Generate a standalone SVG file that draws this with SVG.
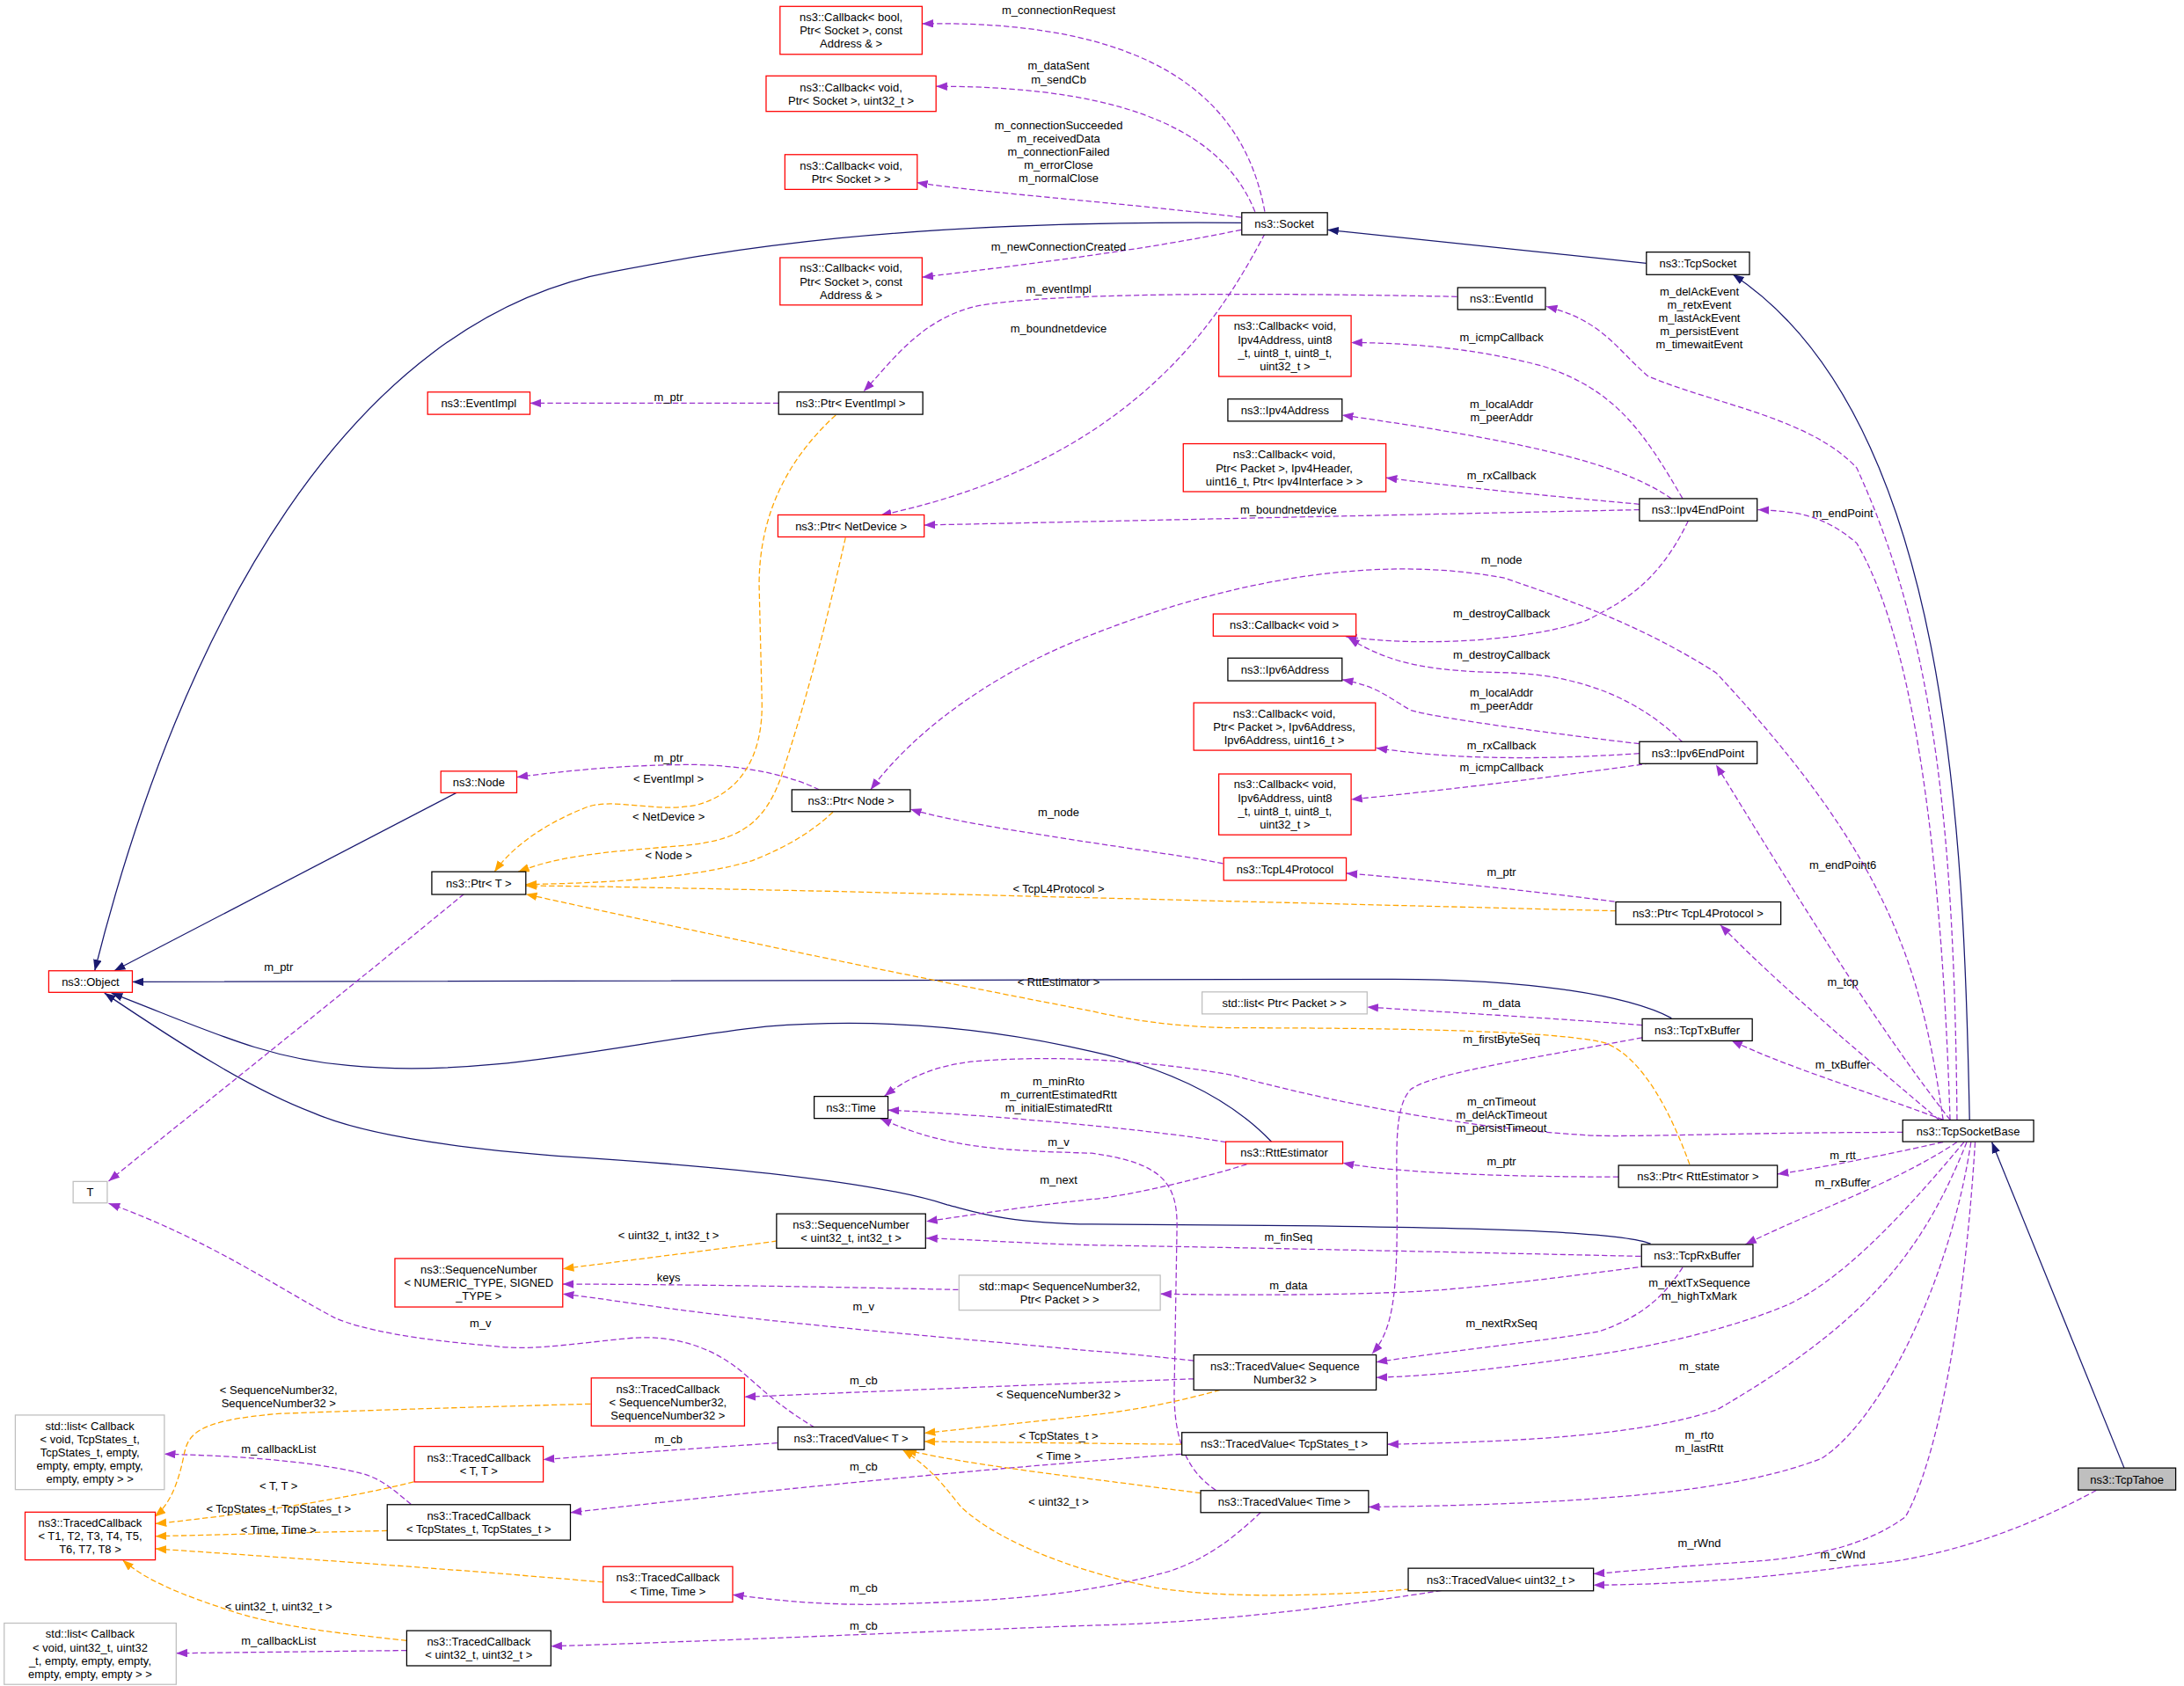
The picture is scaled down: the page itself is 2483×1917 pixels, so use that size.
<svg xmlns="http://www.w3.org/2000/svg" width="2483" height="1917" viewBox="0 0 2483 1917">
<style>
.n rect{fill:#fff;stroke:#000;stroke-width:0.8}
.n.r rect{stroke:#ff0000}
.n.g rect{stroke:#bfbfbf}
.n.t rect{fill:#bfbfbf}
text{font-family:"Liberation Sans",Arial,sans-serif;font-size:8.2px;fill:#000;text-anchor:middle}
.p{fill:none;stroke:#9a32cd;stroke-width:0.8;stroke-dasharray:4,2;marker-end:url(#mp)}
.o{fill:none;stroke:#ffa500;stroke-width:0.8;stroke-dasharray:4,2;marker-end:url(#mo)}
.b{fill:none;stroke:#191970;stroke-width:0.8;marker-end:url(#mb)}
</style>
<defs>
<marker id="mp" markerUnits="userSpaceOnUse" markerWidth="9" markerHeight="7" refX="8" refY="3" orient="auto"><path d="M0,0L8,3L0,6z" fill="#9a32cd"/></marker>
<marker id="mo" markerUnits="userSpaceOnUse" markerWidth="9" markerHeight="7" refX="8" refY="3" orient="auto"><path d="M0,0L8,3L0,6z" fill="#ffa500"/></marker>
<marker id="mb" markerUnits="userSpaceOnUse" markerWidth="9" markerHeight="7" refX="8" refY="3" orient="auto"><path d="M0,0L8,3L0,6z" fill="#191970"/></marker>
</defs>
<rect width="2483" height="1917" fill="#fff"/>
<g transform="scale(1.5836)">
<g id="connectors">
<path class="b" d="M891,160 C640,158 520,180 440,195 C250,230 130,450 68,697"/>
<path class="b" d="M1182,189 L953,165"/>
<path class="b" d="M1414,804 C1410,600 1400,300 1244,197"/>
<path class="b" d="M328,569 L82,697"/>
<path class="b" d="M1200,731 C1170,715 1100,703 1000,703 L95,705"/>
<path class="b" d="M913,820 C880,785 830,765 784,755 C720,740 640,730 550,737 C450,748 350,775 250,765 C190,760 150,740 80,713"/>
<path class="b" d="M1185,893 C1160,882 1000,880 784,879 C720,878 700,870 680,865 C640,852 560,840 400,830 C300,822 250,810 225,799 C180,782 130,750 75,713"/>
<path class="b" d="M1525,1054 L1430,820"/>

<path class="p" d="M908,152 C895,80 840,14 662,17"/>
<path class="p" d="M901,152 C880,100 820,62 672,62"/>
<path class="p" d="M891,156 C800,145 700,138 658,131"/>
<path class="p" d="M891,165 C820,180 720,192 662,199"/>
<path class="p" d="M1046,213 C900,210 750,210 700,220 C660,230 640,260 620,281"/>
<path class="p" d="M908,168 C880,220 820,330 632,370"/>
<path class="p" d="M559,289.5 L380.5,289.5"/>
<path class="p" d="M1177,366 L663.5,377"/>
<path class="p" d="M1208,358 C1180,310 1160,280 1108,263 C1060,250 1010,246 970,246"/>
<path class="p" d="M1200,358 C1160,330 1080,315 963.5,298"/>
<path class="p" d="M1177,362 C1100,355 1050,350 995,343"/>
<path class="p" d="M1405,804 C1403,600 1390,460 1333,336 C1300,300 1230,290 1183,270 C1160,250 1150,230 1110,220"/>
<path class="p" d="M1400,804 C1395,650 1380,470 1333,390 C1310,370 1290,367 1262,366"/>
<path class="p" d="M1395,804 C1380,700 1360,620 1232,483 C1180,450 1133,433 1080,415 C1000,400 900,410 783,456 C720,480 660,520 625,567"/>
<path class="p" d="M1212,374 C1190,420 1163,433 1140,445 C1100,460 1020,465 966,457"/>
<path class="p" d="M1208,533 C1180,505 1140,485 1083,483 C1030,482 1000,478 968,458"/>
<path class="p" d="M1177,534 C1100,525 1030,515 1013,510 C995,500 990,493 963.5,488"/>
<path class="p" d="M1177,541 C1100,546 1040,545 988,537"/>
<path class="p" d="M1185,548 C1100,560 1030,568 970,574"/>
<path class="p" d="M1400,804 C1350,740 1300,660 1232,549"/>
<path class="p" d="M588,567 C570,558 540,550 500,549 C450,549 410,553 371,558"/>
<path class="p" d="M878,620 C840,612 700,595 653.5,581"/>
<path class="p" d="M1165,648 C1100,640 1030,632 966.5,627"/>
<path class="p" d="M1392,804 C1340,760 1280,710 1235,664"/>
<path class="p" d="M333,642 C250,710 150,790 78,848"/>
<path class="p" d="M1179,736 C1100,730 1040,727 981.5,723"/>
<path class="p" d="M1395,804 C1330,780 1280,765 1243,747"/>
<path class="p" d="M1179,745 C1100,760 1030,770 1013,782 C1000,795 1003,830 1003,870 C1003,930 1000,955 985,972"/>
<path class="p" d="M1366,813 C1250,813 1160,817 1139,815 C1050,810 950,790 885,772 C830,762 760,757 700,762 C670,765 650,775 635,787"/>
<path class="p" d="M880,820 C820,810 700,800 637.5,797"/>
<path class="p" d="M873,1070 C850,1055 843,1030 843,1000 L845,880 C845,850 835,835 784,828 C720,826 680,825 632,803"/>
<path class="p" d="M895,836 C850,850 800,860 784,861 C730,867 700,872 665,877"/>
<path class="p" d="M1162,845 C1080,845 1000,842 964,835"/>
<path class="p" d="M1395,820 C1350,830 1310,838 1276,843"/>
<path class="p" d="M1405,820 C1360,850 1300,870 1253,893.5"/>
<path class="p" d="M1178,902 C1000,898 850,895 784,894 C740,893 700,890 665,889"/>
<path class="p" d="M1182,909 C1100,920 1040,927 1000,928 C950,930 880,930 833,929"/>
<path class="p" d="M688,926 C600,924 480,922 404,922"/>
<path class="p" d="M857,977 C820,973 800,971 784,970 C700,962 600,954 500,942 C460,937 430,932 404,929"/>
<path class="p" d="M585,1025 C560,1010 550,1000 535,987 C510,965 480,958 450,961 C400,966 380,970 350,966 C300,962 260,955 240,946 C200,925 150,890 78,864"/>
<path class="p" d="M1208,910 C1195,930 1180,945 1148,956 C1100,964 1040,970 988,978"/>
<path class="p" d="M1410,820 C1360,880 1320,920 1283,937 C1240,955 1183,968 1130,975 C1080,982 1030,988 988,989"/>
<path class="p" d="M857,990 C800,992 700,996 534.5,1003"/>
<path class="p" d="M558,1036 C500,1040 440,1044 390,1048"/>
<path class="p" d="M295,1080 C285,1072 275,1062 260,1058 C220,1048 160,1045 118,1044"/>
<path class="p" d="M1412,820 C1380,900 1340,950 1233,1012 C1180,1030 1100,1035 996,1037"/>
<path class="p" d="M848,1044 C700,1055 550,1070 409.5,1086"/>
<path class="p" d="M1415,820 C1400,920 1350,1020 1308,1047 C1250,1070 1150,1080 982.5,1082"/>
<path class="p" d="M905,1086 C890,1100 870,1118 840,1128 C780,1145 720,1150 625,1152 C580,1152 550,1148 526,1145"/>
<path class="p" d="M1418,820 C1410,950 1390,1050 1368,1089 C1340,1110 1300,1118 1260,1121 C1200,1125 1170,1128 1144,1130"/>
<path class="p" d="M1505,1070 C1450,1100 1390,1120 1333,1124 C1270,1133 1200,1138 1144,1138"/>
<path class="p" d="M1035,1142 C950,1155 870,1165 784,1167 C650,1172 520,1178 395.5,1182"/>
<path class="p" d="M292,1185 L126.5,1187"/>

<path class="o" d="M600,298 C565,330 545,370 545,420 L547,503 C548,545 530,570 500,578 C470,584 440,572 420,580 C395,590 370,605 355,626"/>
<path class="o" d="M607,386 C595,440 580,500 560,560 C545,600 520,605 480,608 C430,612 400,615 372,626"/>
<path class="o" d="M598,583 C580,600 560,610 540,618 C500,630 440,634 377.5,635"/>
<path class="o" d="M1160,654 C1000,650 800,645 600,640 C500,638 420,636 377.5,636"/>
<path class="o" d="M1213,836 C1200,800 1180,760 1153,749 C1120,740 1000,738 883,738 C840,737 810,732 784,726 C700,710 550,680 377.5,642"/>
<path class="o" d="M558,891 C500,899 450,905 404,911"/>
<path class="o" d="M424,1008 C350,1010 280,1012 200,1015 C140,1020 135,1030 132,1045 C128,1065 122,1080 111,1089"/>
<path class="o" d="M876,998 C840,1008 810,1013 784,1016 C740,1021 700,1025 663.5,1029"/>
<path class="o" d="M848,1037 L663.5,1035"/>
<path class="o" d="M862,1072 C830,1068 800,1064 784,1062 C720,1054 680,1048 650,1041"/>
<path class="o" d="M1012,1141 C950,1146 880,1148 830,1140 C780,1130 720,1110 690,1082 C680,1070 670,1055 648,1041"/>
<path class="o" d="M297,1064 C240,1078 170,1088 111.5,1094"/>
<path class="o" d="M278,1099 L111.5,1103"/>
<path class="o" d="M433,1136 C330,1127 230,1120 111.5,1112"/>
<path class="o" d="M292,1178 C250,1173 210,1170 170,1158 C130,1145 105,1135 88,1120"/>

<g id="labels">
<text x="760" y="10">m_connectionRequest</text>
<text x="760" y="50">m_dataSent</text><text x="760" y="60">m_sendCb</text>
<text x="760" y="93">m_connectionSucceeded</text><text x="760" y="102.5">m_receivedData</text><text x="760" y="112">m_connectionFailed</text><text x="760" y="121.5">m_errorClose</text><text x="760" y="131">m_normalClose</text>
<text x="760" y="180">m_newConnectionCreated</text>
<text x="760" y="210">m_eventImpl</text>
<text x="760" y="239">m_boundnetdevice</text>
<text x="480" y="288">m_ptr</text>
<text x="1220" y="212">m_delAckEvent</text><text x="1220" y="221.5">m_retxEvent</text><text x="1220" y="231">m_lastAckEvent</text><text x="1220" y="240.5">m_persistEvent</text><text x="1220" y="250">m_timewaitEvent</text>
<text x="1078" y="245">m_icmpCallback</text>
<text x="1078" y="293">m_localAddr</text><text x="1078" y="302.5">m_peerAddr</text>
<text x="1078" y="344">m_rxCallback</text>
<text x="925" y="369">m_boundnetdevice</text>
<text x="1323" y="371">m_endPoint</text>
<text x="1078" y="405">m_node</text>
<text x="1078" y="443">m_destroyCallback</text>
<text x="1078" y="473">m_destroyCallback</text>
<text x="1078" y="500">m_localAddr</text><text x="1078" y="509.5">m_peerAddr</text>
<text x="1078" y="538">m_rxCallback</text>
<text x="1078" y="554">m_icmpCallback</text>
<text x="480" y="547">m_ptr</text>
<text x="480" y="562">&lt; EventImpl &gt;</text>
<text x="760" y="586">m_node</text>
<text x="480" y="589">&lt; NetDevice &gt;</text>
<text x="480" y="617">&lt; Node &gt;</text>
<text x="1323" y="624">m_endPoint6</text>
<text x="1078" y="629">m_ptr</text>
<text x="760" y="641">&lt; TcpL4Protocol &gt;</text>
<text x="200" y="697">m_ptr</text>
<text x="1323" y="708">m_tcp</text>
<text x="760" y="708">&lt; RttEstimator &gt;</text>
<text x="1078" y="723">m_data</text>
<text x="1078" y="749">m_firstByteSeq</text>
<text x="1323" y="767">m_txBuffer</text>
<text x="760" y="779">m_minRto</text><text x="760" y="788.5">m_currentEstimatedRtt</text><text x="760" y="798">m_initialEstimatedRtt</text>
<text x="1078" y="794">m_cnTimeout</text><text x="1078" y="803.5">m_delAckTimeout</text><text x="1078" y="813">m_persistTimeout</text>
<text x="760" y="823">m_v</text>
<text x="1323" y="832">m_rtt</text>
<text x="1078" y="837">m_ptr</text>
<text x="760" y="850">m_next</text>
<text x="1323" y="852">m_rxBuffer</text>
<text x="480" y="890">&lt; uint32_t, int32_t &gt;</text>
<text x="925" y="891">m_finSeq</text>
<text x="480" y="920">keys</text>
<text x="925" y="926">m_data</text>
<text x="1220" y="924">m_nextTxSequence</text><text x="1220" y="933.5">m_highTxMark</text>
<text x="345" y="953">m_v</text>
<text x="620" y="941">m_v</text>
<text x="1078" y="953">m_nextRxSeq</text>
<text x="200" y="1001">&lt; SequenceNumber32,</text><text x="200" y="1010.5">SequenceNumber32 &gt;</text>
<text x="620" y="994">m_cb</text>
<text x="760" y="1004">&lt; SequenceNumber32 &gt;</text>
<text x="1220" y="984">m_state</text>
<text x="200" y="1043">m_callbackList</text>
<text x="480" y="1036">m_cb</text>
<text x="760" y="1034">&lt; TcpStates_t &gt;</text>
<text x="620" y="1056">m_cb</text>
<text x="760" y="1048">&lt; Time &gt;</text>
<text x="200" y="1070">&lt; T, T &gt;</text>
<text x="1220" y="1033">m_rto</text><text x="1220" y="1042.5">m_lastRtt</text>
<text x="200" y="1086">&lt; TcpStates_t, TcpStates_t &gt;</text>
<text x="200" y="1101">&lt; Time, Time &gt;</text>
<text x="760" y="1081">&lt; uint32_t &gt;</text>
<text x="1220" y="1111">m_rWnd</text>
<text x="1323" y="1119">m_cWnd</text>
<text x="620" y="1143">m_cb</text>
<text x="200" y="1156">&lt; uint32_t, uint32_t &gt;</text>
<text x="200" y="1181">m_callbackList</text>
<text x="620" y="1170">m_cb</text>
</g>
</g>

<g id="cb_bool" class="n r"><rect x="560" y="4.6" width="102" height="34.4"/><text x="611" y="15.2">ns3::Callback&lt; bool,</text><text x="611" y="24.8">Ptr&lt; Socket &gt;, const</text><text x="611" y="34.4">Address &amp; &gt;</text></g>
<g id="cb_uint32" class="n r"><rect x="550" y="54.5" width="122" height="25.5"/><text x="611" y="65.4">ns3::Callback&lt; void,</text><text x="611" y="75">Ptr&lt; Socket &gt;, uint32_t &gt;</text></g>
<g id="cb_socket" class="n r"><rect x="563.5" y="111" width="95" height="25"/><text x="611" y="121.7">ns3::Callback&lt; void,</text><text x="611" y="131.3">Ptr&lt; Socket &gt; &gt;</text></g>
<g id="cb_const" class="n r"><rect x="560" y="185" width="102" height="34"/><text x="611" y="195.4">ns3::Callback&lt; void,</text><text x="611" y="205">Ptr&lt; Socket &gt;, const</text><text x="611" y="214.6">Address &amp; &gt;</text></g>
<g id="eventimpl" class="n r"><rect x="307" y="281.5" width="73.5" height="16"/><text x="343.7" y="292.5">ns3::EventImpl</text></g>
<g id="ptr_eventimpl" class="n"><rect x="559" y="281.5" width="103.5" height="16"/><text x="610.7" y="292.5">ns3::Ptr&lt; EventImpl &gt;</text></g>
<g id="ptr_netdevice" class="n r"><rect x="558.5" y="369.7" width="105" height="15.8"/><text x="611" y="380.6">ns3::Ptr&lt; NetDevice &gt;</text></g>
<g id="node" class="n r"><rect x="316.5" y="553.7" width="54.5" height="15.5"/><text x="343.7" y="564.5">ns3::Node</text></g>
<g id="ptr_node" class="n"><rect x="568.5" y="567" width="85" height="15.7"/><text x="611" y="577.9">ns3::Ptr&lt; Node &gt;</text></g>
<g id="socket" class="n"><rect x="891.5" y="152.7" width="61.5" height="15.9"/><text x="922" y="163.6">ns3::Socket</text></g>
<g id="tcpsocket" class="n"><rect x="1182" y="181" width="74" height="16.2"/><text x="1219" y="192">ns3::TcpSocket</text></g>
<g id="eventid" class="n"><rect x="1046.5" y="206.5" width="63" height="15.8"/><text x="1078" y="217.4">ns3::EventId</text></g>
<g id="cb_ipv4_icmp" class="n r"><rect x="875" y="226.6" width="95" height="43.7"/><text x="922.5" y="237.1">ns3::Callback&lt; void,</text><text x="922.5" y="246.7">Ipv4Address, uint8</text><text x="922.5" y="256.3">_t, uint8_t, uint8_t,</text><text x="922.5" y="265.9">uint32_t &gt;</text></g>
<g id="ipv4address" class="n"><rect x="881.5" y="286.5" width="82" height="15.9"/><text x="922.5" y="297.5">ns3::Ipv4Address</text></g>
<g id="cb_ipv4_rx" class="n r"><rect x="849.5" y="318.6" width="145.5" height="34.4"/><text x="922" y="329.2">ns3::Callback&lt; void,</text><text x="922" y="338.8">Ptr&lt; Packet &gt;, Ipv4Header,</text><text x="922" y="348.4">uint16_t, Ptr&lt; Ipv4Interface &gt; &gt;</text></g>
<g id="ipv4endpoint" class="n"><rect x="1177" y="358" width="84.5" height="16"/><text x="1219" y="369">ns3::Ipv4EndPoint</text></g>
<g id="cb_void" class="n r"><rect x="871" y="440.8" width="102.5" height="15.9"/><text x="922" y="451.7">ns3::Callback&lt; void &gt;</text></g>
<g id="ipv6address" class="n"><rect x="881.5" y="472.5" width="82" height="16.3"/><text x="922.5" y="483.6">ns3::Ipv6Address</text></g>
<g id="cb_ipv6_rx" class="n r"><rect x="857" y="504.6" width="130.5" height="34.1"/><text x="922" y="515">ns3::Callback&lt; void,</text><text x="922" y="524.6">Ptr&lt; Packet &gt;, Ipv6Address,</text><text x="922" y="534.2">Ipv6Address, uint16_t &gt;</text></g>
<g id="ipv6endpoint" class="n"><rect x="1177" y="532.5" width="84.5" height="15.8"/><text x="1219" y="543.4">ns3::Ipv6EndPoint</text></g>
<g id="cb_ipv6_icmp" class="n r"><rect x="875" y="555.7" width="95" height="43.7"/><text x="922.5" y="566.1">ns3::Callback&lt; void,</text><text x="922.5" y="575.7">Ipv6Address, uint8</text><text x="922.5" y="585.3">_t, uint8_t, uint8_t,</text><text x="922.5" y="594.9">uint32_t &gt;</text></g>
<g id="ptr_t" class="n"><rect x="310" y="625.9" width="67.5" height="16.3"/><text x="343.7" y="637">ns3::Ptr&lt; T &gt;</text></g>
<g id="object" class="n r"><rect x="35" y="697" width="60" height="15.5"/><text x="65" y="707.7">ns3::Object</text></g>
<g id="t" class="n g"><rect x="52.5" y="848.3" width="24.5" height="15.4"/><text x="64.7" y="859">T</text></g>
<g id="time" class="n"><rect x="584.5" y="787.2" width="53" height="15.8"/><text x="611" y="798">ns3::Time</text></g>
<g id="seq_uint32" class="n"><rect x="557.5" y="871.5" width="107" height="24.7"/><text x="611" y="882">ns3::SequenceNumber</text><text x="611" y="891.6">&lt; uint32_t, int32_t &gt;</text></g>
<g id="seq_numeric" class="n r"><rect x="283.5" y="903.6" width="120.5" height="34.8"/><text x="343.7" y="914.4">ns3::SequenceNumber</text><text x="343.7" y="924">&lt; NUMERIC_TYPE, SIGNED</text><text x="343.7" y="933.6">_TYPE &gt;</text></g>
<g id="std_map" class="n g"><rect x="688.5" y="915.6" width="144.5" height="25.1"/><text x="760.7" y="926.3">std::map&lt; SequenceNumber32,</text><text x="760.7" y="935.9">Ptr&lt; Packet &gt; &gt;</text></g>
<g id="tc_seq32" class="n r"><rect x="424.5" y="989.4" width="110" height="34.4"/><text x="479.5" y="1000">ns3::TracedCallback</text><text x="479.5" y="1009.6">&lt; SequenceNumber32,</text><text x="479.5" y="1019.2">SequenceNumber32 &gt;</text></g>
<g id="tv_t" class="n"><rect x="558.5" y="1024.6" width="105" height="16.2"/><text x="611" y="1035.7">ns3::TracedValue&lt; T &gt;</text></g>
<g id="list_tcpstates" class="n g"><rect x="11" y="1016" width="107" height="53.5"/><text x="64.5" y="1026.5">std::list&lt; Callback</text><text x="64.5" y="1036.1">&lt; void, TcpStates_t,</text><text x="64.5" y="1045.7">TcpStates_t, empty,</text><text x="64.5" y="1055.3">empty, empty, empty,</text><text x="64.5" y="1064.9">empty, empty &gt; &gt;</text></g>
<g id="tc_tt" class="n r"><rect x="297.5" y="1038.5" width="92.5" height="25.5"/><text x="343.7" y="1049.4">ns3::TracedCallback</text><text x="343.7" y="1059">&lt; T, T &gt;</text></g>
<g id="tc_t1" class="n r"><rect x="18" y="1085.7" width="93.5" height="34.3"/><text x="64.7" y="1096.2">ns3::TracedCallback</text><text x="64.7" y="1105.8">&lt; T1, T2, T3, T4, T5,</text><text x="64.7" y="1115.4">T6, T7, T8 &gt;</text></g>
<g id="tc_tcpstates" class="n"><rect x="278" y="1080.3" width="131.5" height="25.5"/><text x="343.7" y="1091.2">ns3::TracedCallback</text><text x="343.7" y="1100.8">&lt; TcpStates_t, TcpStates_t &gt;</text></g>
<g id="tc_time" class="n r"><rect x="433" y="1124.8" width="93" height="25.5"/><text x="479.5" y="1135.7">ns3::TracedCallback</text><text x="479.5" y="1145.3">&lt; Time, Time &gt;</text></g>
<g id="list_uint32" class="n g"><rect x="3" y="1165.4" width="123.5" height="44"/><text x="64.7" y="1176">std::list&lt; Callback</text><text x="64.7" y="1185.6">&lt; void, uint32_t, uint32</text><text x="64.7" y="1195.2">_t, empty, empty, empty,</text><text x="64.7" y="1204.8">empty, empty, empty &gt; &gt;</text></g>
<g id="tc_uint32" class="n"><rect x="292" y="1170.8" width="103.5" height="25.2"/><text x="343.7" y="1181.6">ns3::TracedCallback</text><text x="343.7" y="1191.2">&lt; uint32_t, uint32_t &gt;</text></g>
<g id="tcpl4protocol" class="n r"><rect x="878.5" y="615.9" width="88" height="16.2"/><text x="922.5" y="627">ns3::TcpL4Protocol</text></g>
<g id="ptr_tcpl4" class="n"><rect x="1160" y="647.6" width="118.5" height="16.2"/><text x="1219" y="658.7">ns3::Ptr&lt; TcpL4Protocol &gt;</text></g>
<g id="list_packet" class="n g"><rect x="863" y="712.2" width="118.5" height="15.8"/><text x="922" y="723">std::list&lt; Ptr&lt; Packet &gt; &gt;</text></g>
<g id="txbuffer" class="n"><rect x="1179" y="731.5" width="79" height="15.8"/><text x="1218.5" y="742.4">ns3::TcpTxBuffer</text></g>
<g id="tcpsocketbase" class="n"><rect x="1366" y="804.2" width="94" height="15.5"/><text x="1413" y="815">ns3::TcpSocketBase</text></g>
<g id="rttestimator" class="n r"><rect x="880" y="819.7" width="84" height="15.8"/><text x="922" y="830.6">ns3::RttEstimator</text></g>
<g id="ptr_rtt" class="n"><rect x="1162" y="836.7" width="114" height="15.8"/><text x="1219" y="847.6">ns3::Ptr&lt; RttEstimator &gt;</text></g>
<g id="rxbuffer" class="n"><rect x="1178.5" y="893.5" width="80" height="15.9"/><text x="1218.5" y="904.5">ns3::TcpRxBuffer</text></g>
<g id="tv_seq32" class="n"><rect x="857" y="972.8" width="131" height="25.2"/><text x="922.5" y="983.6">ns3::TracedValue&lt; Sequence</text><text x="922.5" y="993.2">Number32 &gt;</text></g>
<g id="tv_tcpstates" class="n"><rect x="848.5" y="1028.5" width="147.5" height="16.2"/><text x="922" y="1039.6">ns3::TracedValue&lt; TcpStates_t &gt;</text></g>
<g id="tv_time" class="n"><rect x="862" y="1070.2" width="120.5" height="15.8"/><text x="922" y="1081">ns3::TracedValue&lt; Time &gt;</text></g>
<g id="tv_uint32" class="n"><rect x="1011" y="1126" width="133" height="16.2"/><text x="1077.5" y="1137">ns3::TracedValue&lt; uint32_t &gt;</text></g>
<g id="tcptahoe" class="n t"><rect x="1492" y="1054" width="70" height="15.8"/><text x="1527" y="1065">ns3::TcpTahoe</text></g>
</g>
</svg>
